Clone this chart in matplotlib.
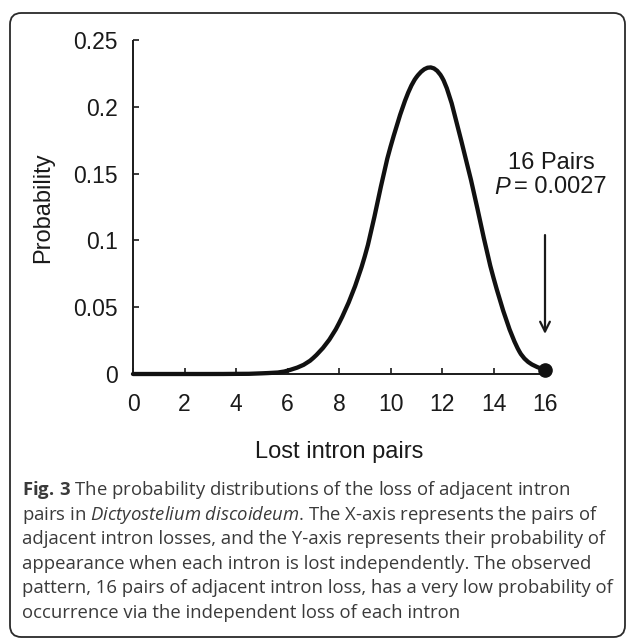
import numpy as np
import matplotlib
matplotlib.use("Agg")
import matplotlib.pyplot as plt
from matplotlib.path import Path
from matplotlib.patches import PathPatch, FancyBboxPatch

# ---- data ----
lost_pairs = list(range(0, 17))
probability = [0.0, 0.0, 0.0, 0.0, 0.0001, 0.0005, 0.0025, 0.012, 0.038,
               0.088, 0.170, 0.222, 0.222, 0.155, 0.072, 0.017, 0.0027]
xticks = [0, 2, 4, 6, 8, 10, 12, 14, 16]
yticks = [0, 0.05, 0.1, 0.15, 0.2, 0.25]
ytick_labels = ["0", "0.05", "0.1", "0.15", "0.2", "0.25"]
observed_x = 16
observed_p = 0.0027
annot_line1 = "16 Pairs"
annot_line2 = "= 0.0027"
xlabel = "Lost intron pairs"
ylabel = "Probability"
caption_lines = [
    r"$\mathbf{Fig.\,3}$ The probability distributions of the loss of adjacent intron",
    r"pairs in $\mathit{Dictyostelium}$ $\mathit{discoideum}$. The X-axis represents the pairs of",
    "adjacent intron losses, and the Y-axis represents their probability of",
    "appearance when each intron is lost independently. The observed",
    "pattern, 16 pairs of adjacent intron loss, has a very low probability of",
    "occurrence via the independent loss of each intron",
]

plt.rcParams["mathtext.fontset"] = "custom"
plt.rcParams["mathtext.rm"] = "Open Sans"
plt.rcParams["mathtext.it"] = "Open Sans:italic"
plt.rcParams["mathtext.bf"] = "Open Sans:bold"

W, H = 627, 639
fig = plt.figure(figsize=(W / 100, H / 100), dpi=100)

def fx(px):
    return px / W

def fy(py):
    return 1 - py / H

# rounded border
border = FancyBboxPatch((fx(10), fy(637)), fx(615), 624 / H,
                        boxstyle="round,pad=0,rounding_size=0.018",
                        transform=fig.transFigure, fill=False,
                        edgecolor="#2a2a2a", linewidth=1.3)
fig.patches.append(border)

ax = fig.add_axes([fx(133), fy(374), fx(545 - 133), (374 - 40) / H])
ax.set_xlim(0, 16)
ax.set_ylim(0, 0.25)
for s in ["top", "right"]:
    ax.spines[s].set_visible(False)
for s in ["left", "bottom"]:
    ax.spines[s].set_linewidth(1.4)
    ax.spines[s].set_color("#1a1a1a")
    ax.spines[s].set_capstyle("butt")

tick_font = "Liberation Sans"
ax.set_xticks(xticks)
ax.set_xticklabels([str(t) for t in xticks], fontsize=16.5, family=tick_font, color="#1a1a1a")
ax.set_yticks(yticks)
ax.set_yticklabels(ytick_labels, fontsize=16.5, family=tick_font, color="#1a1a1a")
ax.tick_params(axis="both", direction="in", length=4.5, width=1.2, color="#1a1a1a")
ax.tick_params(axis="x", pad=14)
ax.tick_params(axis="y", pad=11)

# smooth (Excel-like) line through the points using Catmull-Rom -> Bezier
xs = np.array(lost_pairs, dtype=float)
ys = np.array(probability, dtype=float)
pts = np.column_stack([xs, ys])
n = len(pts)
verts = [pts[0]]
codes = [Path.MOVETO]
for i in range(n - 1):
    p0 = pts[i - 1] if i > 0 else pts[i]
    p1 = pts[i]
    p2 = pts[i + 1]
    p3 = pts[i + 2] if i + 2 < n else pts[i + 1]
    c1 = p1 + (p2 - p0) / 6.0
    c2 = p2 - (p3 - p1) / 6.0
    verts += [c1, c2, p2]
    codes += [Path.CURVE4] * 3
curve = PathPatch(Path(verts, codes), fill=False, edgecolor="#111111",
                  linewidth=3.1, transform=ax.transData, clip_on=False,
                  capstyle="round", joinstyle="round", zorder=3)
ax.add_patch(curve)

ax.plot([observed_x], [observed_p], marker="o", markersize=9.5, color="#111111",
        clip_on=False, zorder=4)

ax.annotate("", xy=(observed_x, 0.030), xytext=(observed_x, 0.104),
            arrowprops=dict(arrowstyle="->,head_length=0.7,head_width=0.35",
                            color="#1a1a1a", linewidth=1.6, shrinkA=0, shrinkB=0))

ax.text(fx(551), fy(163), annot_line1, transform=fig.transFigure, ha="center", va="center",
        fontsize=17, family=tick_font, color="#1a1a1a")
ax.text(fx(510), fy(187), "P", transform=fig.transFigure, ha="right", va="center",
        fontsize=17, family=tick_font, style="italic", color="#1a1a1a")
ax.text(fx(514), fy(187), annot_line2, transform=fig.transFigure, ha="left", va="center",
        fontsize=17, family=tick_font, color="#1a1a1a")

fig.text(fx(339), fy(452), xlabel, ha="center", va="center", fontsize=17,
         family=tick_font, color="#1a1a1a")
fig.text(fx(43), fy(208), ylabel, ha="center", va="center", rotation=90,
         fontsize=17, family=tick_font, color="#1a1a1a")

cap_y0 = 490
cap_dy = 24.6
for i, line in enumerate(caption_lines):
    fig.text(fx(22), fy(cap_y0 + i * cap_dy), line, ha="left", va="center",
             fontsize=13.3, family="Open Sans", color="#3a3a3a")

fig.savefig("out.png", dpi=100)
